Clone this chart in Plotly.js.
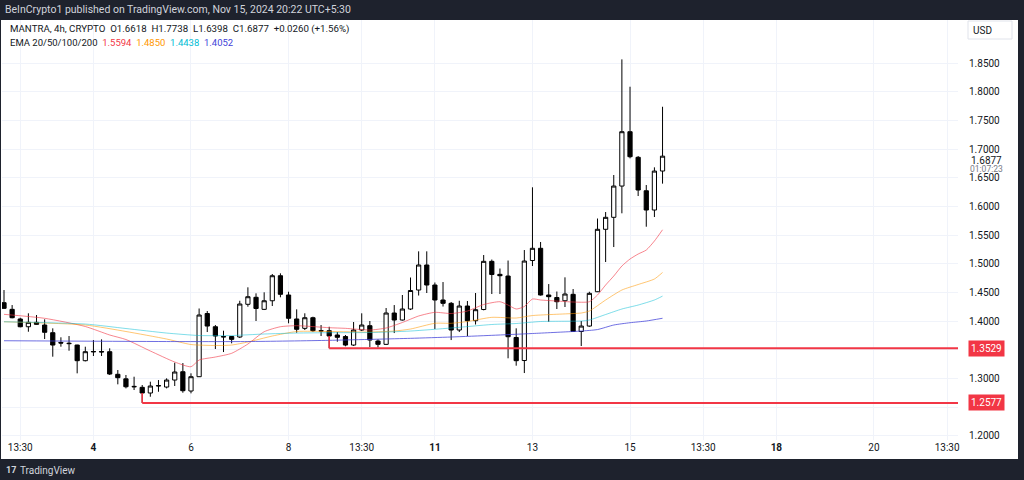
<!DOCTYPE html>
<html><head><meta charset="utf-8">
<script src="https://cdn.plot.ly/plotly-3.0.1.min.js"></script>
<style>html,body{margin:0;padding:0;background:#1e222d;overflow:hidden}#chart{width:1024px;height:480px}</style>
</head><body><div id="chart"></div>
<script>
// ---- data (4h bars, UTC+5:30) ----
const times = [
"2024-11-02 05:30","2024-11-02 09:30","2024-11-02 13:30","2024-11-02 17:30","2024-11-02 21:30",
"2024-11-03 01:30","2024-11-03 05:30","2024-11-03 09:30","2024-11-03 13:30","2024-11-03 17:30","2024-11-03 21:30",
"2024-11-04 01:30","2024-11-04 05:30","2024-11-04 09:30","2024-11-04 13:30","2024-11-04 17:30","2024-11-04 21:30",
"2024-11-05 01:30","2024-11-05 05:30","2024-11-05 09:30","2024-11-05 13:30","2024-11-05 17:30","2024-11-05 21:30",
"2024-11-06 01:30","2024-11-06 05:30","2024-11-06 09:30","2024-11-06 13:30","2024-11-06 17:30","2024-11-06 21:30",
"2024-11-07 01:30","2024-11-07 05:30","2024-11-07 09:30","2024-11-07 13:30","2024-11-07 17:30","2024-11-07 21:30",
"2024-11-08 01:30","2024-11-08 05:30","2024-11-08 09:30","2024-11-08 13:30","2024-11-08 17:30","2024-11-08 21:30",
"2024-11-09 01:30","2024-11-09 05:30","2024-11-09 09:30","2024-11-09 13:30","2024-11-09 17:30","2024-11-09 21:30",
"2024-11-10 01:30","2024-11-10 05:30","2024-11-10 09:30","2024-11-10 13:30","2024-11-10 17:30","2024-11-10 21:30",
"2024-11-11 01:30","2024-11-11 05:30","2024-11-11 09:30","2024-11-11 13:30","2024-11-11 17:30","2024-11-11 21:30",
"2024-11-12 01:30","2024-11-12 05:30","2024-11-12 09:30","2024-11-12 13:30","2024-11-12 17:30","2024-11-12 21:30",
"2024-11-13 01:30","2024-11-13 05:30","2024-11-13 09:30","2024-11-13 13:30","2024-11-13 17:30","2024-11-13 21:30",
"2024-11-14 01:30","2024-11-14 05:30","2024-11-14 09:30","2024-11-14 13:30","2024-11-14 17:30","2024-11-14 21:30",
"2024-11-15 01:30","2024-11-15 05:30","2024-11-15 09:30","2024-11-15 13:30","2024-11-15 17:30"
];
const open  = [1.4323,1.4207,1.4039,1.3904,1.3981,1.3934,1.3800,1.3630,1.3617,1.3585,1.3312,1.3465,1.3472,1.3469,1.3075,1.2996,1.2865,1.2848,1.2749,1.2871,1.2853,1.2975,1.3120,1.2784,1.3033,1.4134,1.3904,1.3733,1.3733,1.3725,1.4295,1.4417,1.4207,1.4357,1.4793,1.4457,1.4039,1.3876,1.4061,1.3829,1.3835,1.3760,1.3733,1.3585,1.3847,1.3922,1.3655,1.3597,1.4143,1.4021,1.4213,1.4544,1.4980,1.4631,1.4370,1.4312,1.3847,1.4265,1.4009,1.4204,1.5044,1.4817,1.4788,1.3716,1.3315,1.5058,1.5271,1.4457,1.4413,1.4357,1.4469,1.3821,1.3916,1.4514,1.5602,1.5811,1.6356,1.7303,1.6857,1.6274,1.5938,1.6618];
const high  = [1.4544,1.4282,1.4061,1.4138,1.4108,1.4033,1.3876,1.3720,1.3742,1.3590,1.3556,1.3672,1.3684,1.3528,1.3150,1.3063,1.3033,1.2888,1.2946,1.2975,1.3005,1.3277,1.3271,1.3092,1.4222,1.4178,1.3934,1.3835,1.3742,1.4357,1.4591,1.4486,1.4504,1.4823,1.4835,1.4514,1.4207,1.4138,1.4079,1.3934,1.3904,1.3812,1.3760,1.3986,1.4138,1.4004,1.3684,1.4230,1.4282,1.4457,1.4762,1.5218,1.5218,1.4675,1.4683,1.4335,1.4357,1.4352,1.4492,1.5154,1.5075,1.4919,1.5058,1.3876,1.5241,1.6334,1.5381,1.4648,1.4518,1.4765,1.4561,1.4004,1.4514,1.5790,1.5903,1.6548,1.8564,1.8087,1.6879,1.6374,1.6682,1.7738];
const low   = [1.4213,1.4051,1.3894,1.3817,1.3940,1.3690,1.3382,1.3556,1.3486,1.3092,1.3300,1.3394,1.3394,1.3063,1.2900,1.2830,1.2801,1.2577,1.2684,1.2771,1.2830,1.2871,1.2754,1.2743,1.3028,1.3812,1.3516,1.3463,1.3615,1.3707,1.4253,1.4004,1.4195,1.4265,1.4417,1.3964,1.3800,1.3847,1.3817,1.3742,1.3529,1.3643,1.3563,1.3568,1.3829,1.3551,1.3542,1.3585,1.3794,1.4012,1.4195,1.4448,1.4492,1.3864,1.4256,1.3672,1.3812,1.3742,1.3943,1.4190,1.4474,1.4474,1.3354,1.3225,1.3097,1.4962,1.4448,1.3991,1.4213,1.4248,1.3812,1.3568,1.3904,1.4509,1.5032,1.5293,1.5881,1.6839,1.6182,1.5647,1.5816,1.6398];
const close = [1.4225,1.4061,1.3904,1.3981,1.3946,1.3807,1.3585,1.3620,1.3610,1.3312,1.3469,1.3472,1.3465,1.3080,1.3016,1.2858,1.2858,1.2749,1.2871,1.2878,1.2975,1.3115,1.2789,1.3033,1.4108,1.3916,1.3742,1.3727,1.3684,1.4300,1.4427,1.4222,1.4357,1.4793,1.4469,1.4051,1.3859,1.4061,1.3835,1.3835,1.3742,1.3720,1.3585,1.3847,1.3934,1.3672,1.3597,1.4143,1.4021,1.4213,1.4535,1.4980,1.4631,1.4370,1.4312,1.3847,1.4265,1.4009,1.4201,1.5044,1.4814,1.4793,1.3730,1.3312,1.5049,1.5271,1.4457,1.4428,1.4340,1.4474,1.3821,1.3916,1.4486,1.5602,1.5811,1.6356,1.7303,1.6867,1.6287,1.5938,1.6617,1.6877];

// EMA lines at selected bars (index into times)
const ema20Idx = [0,5,10,13,15,18,21,23,24,26,28,30,32,34,36,40,42,45,47,49,51,53,55,57,59,61,62,63,64,65,66,68,70,72,73,74,75,76,77,78,79,80,81];
const ema20Val = [1.4120,1.4051,1.3908,1.3760,1.3681,1.3481,1.3289,1.3207,1.3324,1.3376,1.3441,1.3603,1.3817,1.3904,1.3922,1.3887,1.3876,1.3847,1.3882,1.3978,1.4091,1.4155,1.4134,1.4178,1.4291,1.4340,1.4282,1.4213,1.4256,1.4387,1.4370,1.4352,1.4335,1.4340,1.4457,1.4631,1.4788,1.4962,1.5084,1.5171,1.5241,1.5398,1.5594];
const ema50Idx = [0,10,15,20,23,26,28,30,33,36,40,45,48,50,53,55,57,60,63,65,70,71,72,74,76,78,80,81];
const ema50Val = [1.3991,1.3934,1.3821,1.3690,1.3594,1.3577,1.3585,1.3638,1.3742,1.3821,1.3821,1.3812,1.3829,1.3864,1.3964,1.3964,1.3995,1.4068,1.4056,1.4099,1.4134,1.4143,1.4178,1.4370,1.4544,1.4640,1.4736,1.4850];
const ema100Idx = [0,10,15,20,24,28,32,36,40,45,50,55,60,63,66,71,72,74,76,78,80,81];
const ema100Val = [1.3991,1.3951,1.3873,1.3794,1.3751,1.3751,1.3777,1.3794,1.3800,1.3803,1.3829,1.3882,1.3943,1.3960,1.3995,1.4004,1.4021,1.4117,1.4213,1.4282,1.4370,1.4438];
const ema200Idx = [0,20,30,40,50,55,60,65,70,71,73,75,77,79,81];
const ema200Val = [1.3660,1.3646,1.3646,1.3667,1.3702,1.3725,1.3754,1.3786,1.3821,1.3829,1.3855,1.3934,1.3974,1.4004,1.4052];

const emaNames  = ["EMA20","EMA50","EMA100","EMA200"];
const emaLast   = ["1.5594","1.4850","1.4438","1.4052"];
const emaColors = ["#f23645","#ff9800","#00bcd4","#3f3fd8"];

// support rays: level and starting bar
const levels     = [1.3529, 1.2577];
const levelStart = [40, 17];

// axis ticks
const xTickVals = ["2024-11-02 13:30","2024-11-04 01:30","2024-11-06 01:30","2024-11-08 01:30","2024-11-09 13:30","2024-11-11 01:30","2024-11-13 01:30","2024-11-15 01:30","2024-11-16 13:30","2024-11-18 01:30","2024-11-20 01:30","2024-11-21 13:30"];
const xTickText = ["13:30","<b>4</b>","6","8","13:30","<b>11</b>","13","15","13:30","<b>18</b>","20","13:30"];
const yTickVals = [1.20,1.25,1.30,1.35,1.40,1.45,1.50,1.55,1.60,1.65,1.70,1.75,1.80,1.85];
// labels hidden behind the red level tags in the reference are left blank
const yTickText = ["1.2000","","1.3000","","1.4000","1.4500","1.5000","1.5500","1.6000","1.6500","1.7000","1.7500","1.8000","1.8500"];

const headerText = "BeInCrypto1 published on TradingView.com, Nov 15, 2024 20:22 UTC+5:30";
const legendLine = "MANTRA, 4h, CRYPTO  O1.6618  H1.7738  L1.6398  C1.6877  +0.0260 (+1.56%)";
const lastPrice = "1.6877", countdown = "01:07:23";

// ---- layout helpers (pixel -> paper) ----
const L = 2, R = 958, T = 20, B = 440;
const px = x => (x - L) / (R - L);
const py = y => (B - y) / (B - T);
const FONT = "Roboto, 'Liberation Sans', sans-serif";
const TXT = "#131722";

const traces = [];
const emaSets = [[ema20Idx,ema20Val],[ema50Idx,ema50Val],[ema100Idx,ema100Val],[ema200Idx,ema200Val]];
const emaOpac = [0.6,0.55,0.5,0.75];
emaSets.forEach((s,i)=>{
  traces.push({type:"scatter",mode:"lines",name:emaNames[i],
    x:s[0].map(k=>times[k]), y:s[1],
    line:{color:emaColors[i],width:1,shape:"spline",smoothing:0.6},
    opacity:emaOpac[i], hoverinfo:"skip", showlegend:false});
});
traces.push({type:"candlestick",x:times,open:open,high:high,low:low,close:close,
  increasing:{line:{color:"#000000",width:1},fillcolor:"#ffffff"},
  decreasing:{line:{color:"#000000",width:1},fillcolor:"#000000"},
  whiskerwidth:0, hoverinfo:"skip", showlegend:false});

const shapes = [
  {type:"rect",xref:"paper",yref:"paper",x0:px(1),x1:px(1018),y0:py(459),y1:py(20),
   fillcolor:"#ffffff",line:{width:0},layer:"below"},
  {type:"rect",xref:"paper",yref:"paper",x0:px(968),x1:px(1012),y0:py(39),y1:py(21),
   fillcolor:"rgba(0,0,0,0)",line:{color:"#e0e3eb",width:1}}
];
levels.forEach((lv,i)=>{
  const k = levelStart[i];
  shapes.push({type:"line",xref:"x",yref:"y",x0:times[k],x1:"2024-11-23 00:00",y0:lv,y1:lv,
    line:{color:"#f23645",width:2}});
  shapes.push({type:"line",xref:"x",yref:"y",x0:times[k],x1:times[k],y0:lv,y1:Math.min(open[k],close[k]),
    line:{color:"#f23645",width:1.5}});
});

const annotations = [
  {xref:"paper",yref:"paper",x:px(3),y:py(9),xanchor:"left",yanchor:"middle",showarrow:false,
   text:headerText,font:{family:FONT,size:10.5,color:"#d1d4dc"}},
  {xref:"paper",yref:"paper",x:px(8),y:py(29),xanchor:"left",yanchor:"middle",showarrow:false,
   text:legendLine,font:{family:FONT,size:9.7,color:TXT}},
  {xref:"paper",yref:"paper",x:px(8),y:py(42),xanchor:"left",yanchor:"middle",showarrow:false,
   text:"EMA 20/50/100/200  "+emaLast.map((v,i)=>'<span style="color:'+emaColors[i]+'">'+v+'</span>').join("  "),
   font:{family:FONT,size:9.5,color:TXT}},
  {xref:"paper",yref:"paper",x:px(982),y:py(30),xanchor:"center",yanchor:"middle",showarrow:false,
   text:"USD",font:{family:FONT,size:10,color:TXT}},
  {xref:"paper",yref:"paper",x:px(987),y:py(160),xanchor:"center",yanchor:"middle",showarrow:false,
   text:lastPrice,bgcolor:"#ffffff",borderpad:0,font:{family:FONT,size:10,color:TXT}},
  {xref:"paper",yref:"paper",x:px(987),y:py(169),xanchor:"center",yanchor:"middle",showarrow:false,
   text:countdown,borderpad:0,font:{family:FONT,size:8.5,color:"#787b86"}},
  {xref:"paper",yref:"paper",x:px(18),y:py(470),xanchor:"left",yanchor:"middle",showarrow:false,
   text:"TradingView",font:{family:FONT,size:10,color:"#d1d4dc"}},
  {xref:"paper",yref:"paper",x:px(4),y:py(470),xanchor:"left",yanchor:"middle",showarrow:false,
   text:"<b>17</b>",font:{family:FONT,size:9,color:"#d1d4dc"}}
];
levels.forEach(lv=>{
  annotations.push({xref:"paper",yref:"y",x:px(987),y:lv,xanchor:"center",yanchor:"middle",showarrow:false,
    text:lv.toFixed(4),bgcolor:"#f23645",borderpad:2,font:{family:FONT,size:10,color:"#ffffff"}});
});

const layout = {
  width:1024,height:480,
  margin:{l:L,r:1024-R,t:T,b:480-B,pad:0},
  paper_bgcolor:"#1e222d",plot_bgcolor:"#ffffff",
  showlegend:false,hovermode:false,boxgap:0.26,
  xaxis:{type:"date",range:["2024-11-02 04:31","2024-11-21 18:52"],
    tickmode:"array",tickvals:xTickVals,ticktext:xTickText,
    showgrid:true,gridcolor:"#f0f3fa",zeroline:false,showline:false,ticks:"",
    tickfont:{family:FONT,size:10,color:TXT},rangeslider:{visible:false},fixedrange:true},
  yaxis:{side:"right",range:[1.193,1.925],tickmode:"array",tickvals:yTickVals,ticktext:yTickText,
    showgrid:true,gridcolor:"#f0f3fa",zeroline:false,showline:false,ticks:"",
    ticklabelstandoff:10,tickfont:{family:FONT,size:10,color:TXT},fixedrange:true},
  shapes:shapes,annotations:annotations
};
Plotly.newPlot("chart",traces,layout,{displayModeBar:false,staticPlot:true});
</script></body></html>
